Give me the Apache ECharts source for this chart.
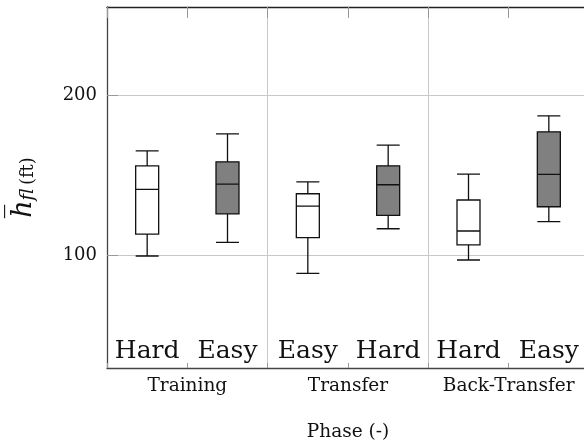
<!DOCTYPE html>
<html><head><meta charset="utf-8">
<script src="https://cdn.jsdelivr.net/npm/echarts@6/dist/echarts.min.js"></script>
<style>html,body{margin:0;padding:0;background:#fff}#c{width:584px;height:445px}</style>
</head><body><div id="c"></div>
<script>
var boxLabels = ['Hard', 'Easy', 'Easy', 'Hard', 'Hard', 'Easy'];
var phases = ['Training', 'Transfer', 'Back-Transfer'];
var lowerWhisker = [99.8, 108.3, 89.0, 116.8, 97.3, 121.2];
var q1 = [113.5, 126.0, 111.2, 125.1, 106.7, 130.5];
var median = [141.3, 144.6, 130.9, 144.2, 115.4, 150.7];
var q3 = [156.0, 158.5, 138.6, 156.0, 134.7, 177.2];
var upperWhisker = [165.3, 175.9, 146.0, 168.9, 150.8, 187.1];
var yTicks = [100, 200];

var serif = 'DejaVu Serif';
var data = boxLabels.map(function (lab, i) {
  return {
    value: [lowerWhisker[i], q1[i], median[i], q3[i], upperWhisker[i]],
    itemStyle: { color: (i % 2 === 1) ? '#808080' : '#ffffff', borderColor: '#111', borderWidth: 1.3 }
  };
});

var chart = echarts.init(document.getElementById('c'), null, { renderer: 'canvas' });
chart.setOption({
  animation: false,
  backgroundColor: '#fff',
  grid: { left: 107, top: 7, right: -5, bottom: 77, containLabel: false, outerBoundsMode: 'none' },
  xAxis: [
    {
      type: 'category', data: boxLabels, position: 'bottom', boundaryGap: true,
      axisLine: { show: true, lineStyle: { color: '#444', width: 1.3 } },
      axisTick: { show: true, inside: true, length: 5, interval: 0, lineStyle: { color: '#999' } },
      axisLabel: { inside: true, interval: 0, margin: 4, fontFamily: serif, fontSize: 25, color: '#111' },
      splitLine: { show: false }
    },
    {
      type: 'category', data: phases, position: 'bottom', boundaryGap: true,
      axisLine: { show: false }, axisTick: { show: false },
      axisLabel: { interval: 0, margin: 9, fontFamily: serif, fontSize: 18.5, color: '#111' },
      splitLine: { show: true, interval: 0, lineStyle: { color: '#c8c8c8', width: 1 } },
      name: 'Phase (-)', nameLocation: 'middle', nameGap: 55,
      nameTextStyle: { fontFamily: serif, fontSize: 18.5, color: '#111' }
    },
    {
      type: 'category', data: boxLabels, position: 'top', boundaryGap: true,
      axisLine: { show: true, lineStyle: { color: '#222', width: 1.3 } },
      axisTick: { show: true, inside: true, length: 11, interval: 0, lineStyle: { color: '#999' } },
      axisLabel: { show: false }, splitLine: { show: false }
    }
  ],
  yAxis: {
    type: 'value', min: 30, max: 255,
    axisLine: { show: true, lineStyle: { color: '#444', width: 1.3 } },
    axisTick: { show: true, inside: true, length: 11, customValues: yTicks, lineStyle: { color: '#999' } },
    axisLabel: { customValues: yTicks, margin: 10, fontFamily: serif, fontSize: 18, color: '#111' },
    splitLine: { show: true, lineStyle: { color: '#c8c8c8', width: 1 } },
    name: '{h|h\u0305}{s|fl} {n|(ft)}', nameLocation: 'middle', nameGap: 70, nameRotate: 90,
    nameTextStyle: {
      rich: {
        h: { fontFamily: serif, fontStyle: 'italic', fontSize: 27, color: '#111', verticalAlign: 'bottom', lineHeight: 32 },
        s: { fontFamily: serif, fontStyle: 'italic', fontSize: 18, color: '#111', verticalAlign: 'bottom', lineHeight: 26 },
        n: { fontFamily: serif, fontSize: 18, color: '#111', verticalAlign: 'bottom', lineHeight: 32 }
      }
    }
  },
  series: [{
    type: 'boxplot', xAxisIndex: 0, yAxisIndex: 0,
    boxWidth: [23, 23],
    data: data
  }]
});
</script></body></html>
